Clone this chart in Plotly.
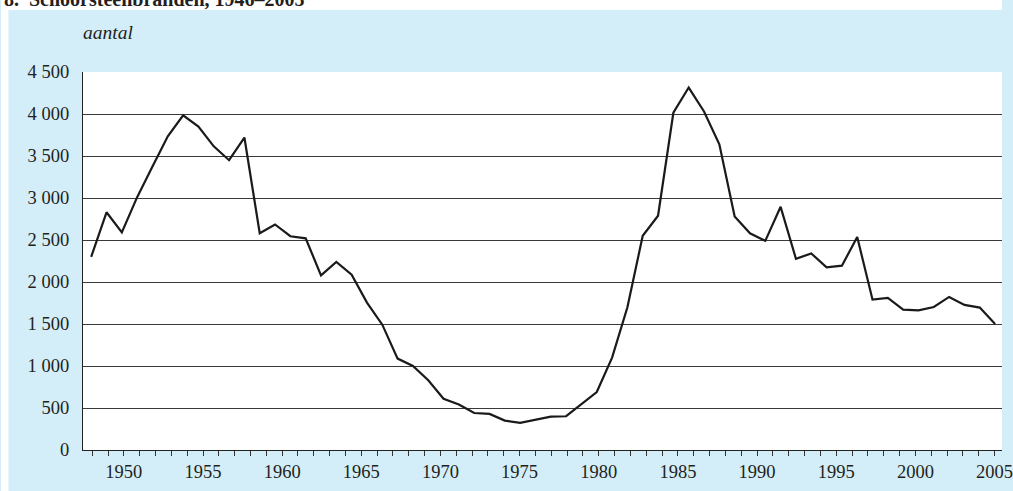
import plotly.graph_objects as go

# ---- data ----
years = list(range(1946, 2006))
values = [
    2300, 2830, 2590, 3010, 3375, 3735, 3985, 3850, 3615, 3450,
    3720, 2580, 2685, 2545, 2520, 2079, 2238, 2087, 1755, 1492,
    1088, 1000, 830, 610, 541, 440, 430, 350, 323, 363,
    398, 402, 550, 690, 1100, 1700, 2550, 2789, 4015, 4315,
    4030, 3640, 2780, 2580, 2490, 2895, 2277, 2340, 2174, 2194,
    2535, 1790, 1810, 1671, 1663, 1703, 1822, 1727, 1695, 1501,
]
tick_years = list(range(1948, 2006))
tick_labels = [str(y) if y % 5 == 0 else "" for y in tick_years]
y_ticks = [0, 500, 1000, 1500, 2000, 2500, 3000, 3500, 4000, 4500]
y_tick_labels = ["0", "500", "1 000", "1 500", "2 000", "2 500",
                 "3 000", "3 500", "4 000", "4 500"]
title_text = "8.  Schoorsteenbranden, 1946–2005"
unit_text = "aantal"

# ---- layout geometry (pixels) ----
W, H = 1013, 491
ML, MR, MT, MB = 83, 0, 72, 41
PW, PH = W - ML - MR, H - MT - MB


def px_x(p):
    return (p - ML) / PW


def px_y(p):
    return (H - MB - p) / PH


BLUE = "#D3EEF9"
INK = "#231F20"
FONT = "Liberation Serif"
TICK_SIZE = 18.5

fig = go.Figure()
fig.add_trace(go.Scatter(
    x=years, y=values, mode="lines",
    line=dict(color="#1a1a1a", width=2.2),
    xaxis="x", yaxis="y", showlegend=False, hoverinfo="x+y",
))
# invisible trace to host the tick axis
fig.add_trace(go.Scatter(
    x=tick_years, y=[None] * len(tick_years), mode="lines",
    xaxis="x2", yaxis="y", showlegend=False, hoverinfo="skip",
))

fig.update_layout(
    width=W, height=H, autosize=False,
    margin=dict(l=ML, r=MR, t=MT, b=MB, pad=0),
    paper_bgcolor=BLUE,
    plot_bgcolor="white",
    font=dict(family=FONT, size=TICK_SIZE, color=INK),
    xaxis=dict(
        range=[1945.465, 2005.45], visible=False, showgrid=False,
        zeroline=False, fixedrange=True,
    ),
    xaxis2=dict(
        overlaying="x", anchor="y", side="bottom",
        range=[1947.42, 2005.47],
        tickmode="array", tickvals=tick_years, ticktext=tick_labels,
        ticks="outside", ticklen=5, tickwidth=1, tickcolor="#333333",
        ticklabeloverflow="allow",
        showline=True, linecolor="#222222", linewidth=1.3,
        showgrid=False, zeroline=False,
        tickfont=dict(family=FONT, size=TICK_SIZE, color=INK),
    ),
    yaxis=dict(
        range=[0, 4500],
        tickmode="array", tickvals=y_ticks, ticktext=y_tick_labels,
        ticks="outside", ticklen=9, tickcolor="rgba(0,0,0,0)",
        showline=True, linecolor="#222222", linewidth=1.3,
        showgrid=True, gridcolor="#3a3a3a", gridwidth=1.2,
        zeroline=False,
        tickfont=dict(family=FONT, size=TICK_SIZE, color=INK),
    ),
    shapes=[
        dict(type="rect", xref="paper", yref="paper", layer="below",
             x0=px_x(0), x1=px_x(W), y0=px_y(10), y1=px_y(0),
             fillcolor="white", line=dict(width=0)),
        dict(type="rect", xref="paper", yref="paper", layer="below",
             x0=px_x(0), x1=px_x(7.5), y0=px_y(H), y1=px_y(0),
             fillcolor="white", line=dict(width=0)),
    ],
    annotations=[
        dict(text="<b>" + title_text + "</b>", xref="paper", yref="paper",
             x=px_x(1), y=px_y(-0.6), xanchor="left", yanchor="middle",
             showarrow=False, font=dict(family=FONT, size=20, color=INK)),
        dict(text="<i>" + unit_text + "</i>", xref="paper", yref="paper",
             x=px_x(81), y=px_y(33), xanchor="left", yanchor="middle",
             showarrow=False, font=dict(family=FONT, size=19.5, color=INK)),
    ],
)

css = (
    "html,body{margin:0!important;padding:0!important;overflow:hidden;"
    "height:%dpx;width:%dpx;background:%s;}"
    ".svg-container{display:block!important;}"
    ".plotly-graph-div{overflow:hidden;line-height:0;}"
) % (H, W, BLUE)

fig.write_html(
    "out.html",
    config={"displayModeBar": False, "responsive": False},
    post_script=(
        "var st=document.createElement('style');"
        "st.textContent='" + css + "';"
        "document.head.appendChild(st);"
    ),
)
